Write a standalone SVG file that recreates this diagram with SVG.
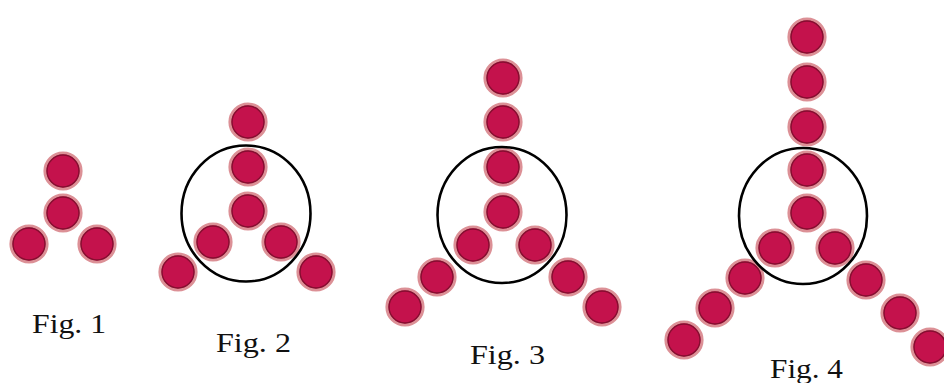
<svg xmlns="http://www.w3.org/2000/svg" width="944" height="383" viewBox="0 0 944 383">
  <defs>
    <style>
      .bead-halo { fill: #c4124c; stroke: #dc9096; stroke-width: 3.2; }
      .bead-rim { fill: none; stroke: #850e30; stroke-width: 1.4; }
      .ring { fill: none; stroke: #000; stroke-width: 2.6; }
      .cap { font-family: "Liberation Serif", "DejaVu Serif", serif; font-size: 28px; fill: #111; }
    </style>
    <g id="bead">
      <circle class="bead-halo" r="18"/>
      <circle class="bead-rim" r="16"/>
    </g>
  </defs>
  <rect width="944" height="383" fill="#fff"/>

  <!-- Figure 1 -->
  <g id="fig1">
    <use href="#bead" x="63" y="171"/>
    <use href="#bead" x="63" y="213"/>
    <use href="#bead" x="29" y="244"/>
    <use href="#bead" x="97" y="244"/>
    <text class="cap" x="32" y="333" textLength="74" lengthAdjust="spacingAndGlyphs">Fig. 1</text>
  </g>

  <!-- Figure 2 -->
  <g id="fig2">
    <use href="#bead" x="248" y="122"/>
    <use href="#bead" x="248" y="167"/>
    <use href="#bead" x="248" y="211"/>
    <use href="#bead" x="213" y="242"/>
    <use href="#bead" x="281" y="242"/>
    <use href="#bead" x="178" y="272"/>
    <use href="#bead" x="316" y="272"/>
    <ellipse class="ring" cx="246" cy="213.5" rx="64.5" ry="68"/>
    <text class="cap" x="216" y="352" textLength="75" lengthAdjust="spacingAndGlyphs">Fig. 2</text>
  </g>

  <!-- Figure 3 -->
  <g id="fig3">
    <use href="#bead" x="503" y="78"/>
    <use href="#bead" x="503" y="122"/>
    <use href="#bead" x="503" y="167"/>
    <use href="#bead" x="503" y="212"/>
    <use href="#bead" x="473" y="245"/>
    <use href="#bead" x="535" y="245"/>
    <use href="#bead" x="437" y="277"/>
    <use href="#bead" x="568" y="277"/>
    <use href="#bead" x="405" y="307"/>
    <use href="#bead" x="602" y="307"/>
    <ellipse class="ring" cx="502" cy="215" rx="64.5" ry="68"/>
    <text class="cap" x="470" y="364" textLength="75" lengthAdjust="spacingAndGlyphs">Fig. 3</text>
  </g>

  <!-- Figure 4 -->
  <g id="fig4">
    <use href="#bead" x="807" y="37"/>
    <use href="#bead" x="807" y="82"/>
    <use href="#bead" x="807" y="127"/>
    <use href="#bead" x="807" y="170"/>
    <use href="#bead" x="807" y="213"/>
    <use href="#bead" x="775" y="248"/>
    <use href="#bead" x="835" y="248"/>
    <use href="#bead" x="745" y="278"/>
    <use href="#bead" x="866" y="280"/>
    <use href="#bead" x="715" y="308"/>
    <use href="#bead" x="900" y="313"/>
    <use href="#bead" x="684" y="340"/>
    <use href="#bead" x="930" y="347"/>
    <ellipse class="ring" cx="803" cy="216" rx="64" ry="68"/>
    <text class="cap" x="770" y="378" textLength="73" lengthAdjust="spacingAndGlyphs">Fig. 4</text>
  </g>
</svg>
